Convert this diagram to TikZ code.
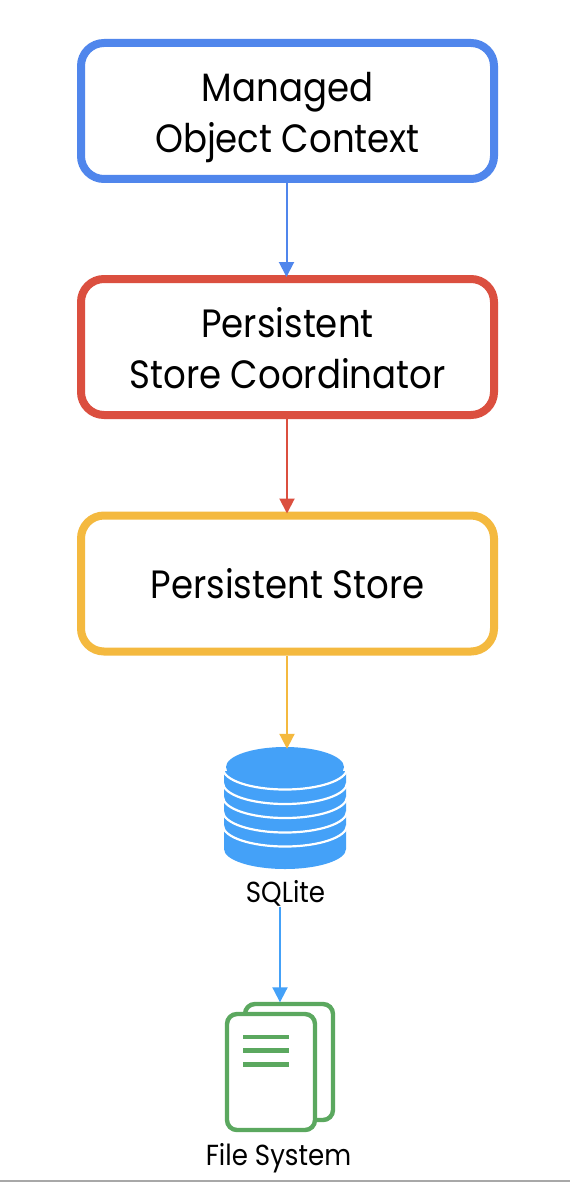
\documentclass[tikz,border=0pt]{standalone}
\usepackage{fontspec}
\setmainfont{Poppins}[FakeStretch=0.9]
\usetikzlibrary{arrows.meta}
\definecolor{cblue}{HTML}{5086EC}
\definecolor{cred}{HTML}{DB4F3F}
\definecolor{cyellow}{HTML}{F4B93F}
\definecolor{cdb}{HTML}{44A1F8}
\definecolor{cgreen}{HTML}{5BA85F}
\definecolor{crule}{HTML}{A8A8A8}
\tikzset{
  x=1pt,y=-1pt,
  flowbox/.style={draw=#1,line width=8pt,rounded corners=23pt,minimum width=413pt,minimum height=136pt,inner sep=0pt,align=center,font=\fontsize{39.5}{51}\selectfont,fill=white},
  link/.style={draw=#1,line width=2pt,-{Triangle[length=15pt,width=15pt,fill=#1]}},
  iconlabel/.style={inner sep=0pt,anchor=base,font=\fontsize{29}{32}\selectfont},
  sheet/.style={draw=cgreen,line width=4.4pt,rounded corners=10pt},
  sheetline/.style={draw=cgreen,line width=4.4pt},
  band/.style={draw=white,line width=2.2pt}
}
\begin{document}
\begin{tikzpicture}
\useasboundingbox (0,0) rectangle (570,1182);
\fill[white] (0,0) rectangle (570,1182);
\node[flowbox=cblue] (moc) at (287.5,111) {\rule{0pt}{42pt}Managed\\Object Context};
\node[flowbox=cred] (psc) at (287.5,347) {\rule{0pt}{32pt}Persistent\\Store Coordinator};
\node[flowbox=cyellow] (ps) at (287.5,583.5) {\rule{0pt}{20pt}Persistent Store};
% database
\fill[cdb] (224,771) -- (224,849) arc[start angle=180,end angle=360,x radius=61pt,y radius=20pt] -- (346,771) -- cycle;
\foreach \yy in {768.5,783,797,811.5,825.5}{
  \draw[band] (223,\yy) arc[start angle=180,end angle=360,x radius=62pt,y radius=21pt];
}
\fill[cdb] (285,767) ellipse[x radius=59pt,y radius=20pt];
\node[inner sep=0pt,minimum width=122pt,minimum height=122pt] (db) at (285,808) {};
\node[iconlabel] (dbl) at (285.5,902.5) {SQLite};
% files
\node[inner sep=0pt,minimum width=110pt,minimum height=130pt] (fs) at (280,1067) {};
\draw[sheet,fill=white] (245,1014) -- (245,1004) -- (333,1004) -- (333,1120) -- (315,1120);
\draw[sheet,fill=white] (227,1014) rectangle (315,1130);
\foreach \yy in {1037,1050.5,1064.5}{
  \draw[sheetline] (243,\yy) -- (289,\yy);
}
\node[iconlabel] (fsl) at (278.5,1165) {File System};
% connectors
\draw[link=cblue] ([xshift=-1pt]moc.south) -- ([xshift=-1pt,yshift=-2pt]psc.north);
\draw[link=cred] ([xshift=-0.5pt]psc.south) -- ([xshift=-0.5pt,yshift=-2pt]ps.north);
\draw[link=cyellow] ([xshift=-0.5pt]ps.south) -- ([xshift=2pt,yshift=-2pt]db.north);
\draw[link=cdb] ([xshift=-5.5pt]dbl.south) -- ([yshift=-0.5pt]fs.north);
\draw[crule,line width=2pt] (0,1181) -- (570,1181);
\end{tikzpicture}
\end{document}
